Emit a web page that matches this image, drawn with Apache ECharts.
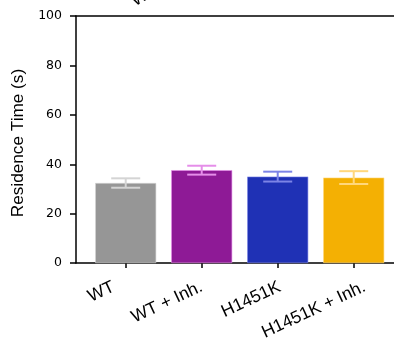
<!DOCTYPE html>
<html>
<head>
<meta charset="utf-8">
<script src="https://cdn.jsdelivr.net/npm/echarts@6/dist/echarts.min.js"></script>
<style>
html,body{margin:0;padding:0;background:#fff;}
#main{width:394px;height:343px;}
</style>
</head>
<body>
<div id="main"></div>
<script>
// data
const categories = ['WT', 'WT + Inh.', 'H1451K', 'H1451K + Inh.'];
const means = [32.4, 37.6, 35.0, 34.6];
const errs = [1.9, 1.8, 2.0, 2.6];
const barColors = ['#969696', '#8e1a96', '#1f31b5', '#f4b003'];
const errColors = ['#d4d4d4', '#e58ee9', '#7c84e6', '#ffd77c'];
const yTicks = [0, 20, 40, 60, 80, 100];

// horizontal nudge of each x label, in px
const labelShift = [-12, 0, 2, 11];
const slot = 76; // px per category on the x axis

const chart = echarts.init(document.getElementById('main'));

const xMin = -0.654, xMax = 3.53;
const idx = categories.map((c, i) => i);

const option = {
  animation: false,
  backgroundColor: '#fff',
  grid: { left: 76, right: 0, top: 16, bottom: 79 },
  xAxis: [
    {
      type: 'value', min: xMin, max: xMax,
      splitLine: { show: false },
      axisLine: { show: true, onZero: false, lineStyle: { color: '#000', width: 1.5 } },
      axisTick: { show: true, customValues: idx, length: 5, lineStyle: { color: '#000', width: 1.5 } },
      axisLabel: {
        customValues: idx.map(i => i + labelShift[i] / slot),
        formatter: v => categories[Math.round(v)],
        rotate: 25, margin: 23,
        fontFamily: 'Liberation Sans', fontSize: 17.5, color: '#000'
      }
    },
    {
      type: 'value', position: 'top', min: xMin, max: xMax,
      splitLine: { show: false },
      axisLine: { show: true, onZero: false, lineStyle: { color: '#000', width: 1.5 } },
      axisTick: { show: false }, axisLabel: { show: false }
    }
  ],
  yAxis: {
    type: 'value', min: 0, max: 100, interval: 20,
    name: 'Residence Time (s)', nameLocation: 'middle', nameGap: 29,
    nameTextStyle: { fontFamily: 'Liberation Sans', fontSize: 17.2, color: '#000', padding: [0, 7, 0, 0] },
    splitLine: { show: false },
    axisLine: { show: true, onZero: false, lineStyle: { color: '#000', width: 1.5 } },
    axisTick: { show: true, length: 6, lineStyle: { color: '#000', width: 1.5 } },
    axisLabel: { margin: 14, fontFamily: 'DejaVu Sans', fontSize: 12.5, color: '#000',
      formatter: v => yTicks.includes(v) ? String(v) : '' }
  },
  series: [
    {
      type: 'bar', barWidth: 61,
      data: means.map((m, i) => ({
        value: [i, m],
        itemStyle: { color: barColors[i], borderColor: errColors[i], borderWidth: 0.6 }
      }))
    },
    {
      type: 'custom',
      data: means.map((m, i) => [i, m - errs[i], m + errs[i]]),
      z: 5,
      renderItem: (params, api) => {
        const i = api.value(0);
        const lo = api.coord([i, api.value(1)]);
        const hi = api.coord([i, api.value(2)]);
        const hw = 14.5;
        const style = { stroke: errColors[params.dataIndex], lineWidth: 2 };
        return {
          type: 'group',
          children: [
            { type: 'line', shape: { x1: lo[0], y1: lo[1], x2: hi[0], y2: hi[1] }, style },
            { type: 'line', shape: { x1: lo[0] - hw, y1: lo[1], x2: lo[0] + hw, y2: lo[1] }, style },
            { type: 'line', shape: { x1: hi[0] - hw, y1: hi[1], x2: hi[0] + hw, y2: hi[1] }, style }
          ]
        };
      }
    }
  ],
  graphic: [
    {
      type: 'text', left: 128, top: -19, rotation: Math.PI / 6, z: 10,
      style: { text: 'WT', fontFamily: 'Liberation Sans', fontSize: 17.5, fill: '#000' }
    }
  ]
};

chart.setOption(option);
</script>
</body>
</html>
